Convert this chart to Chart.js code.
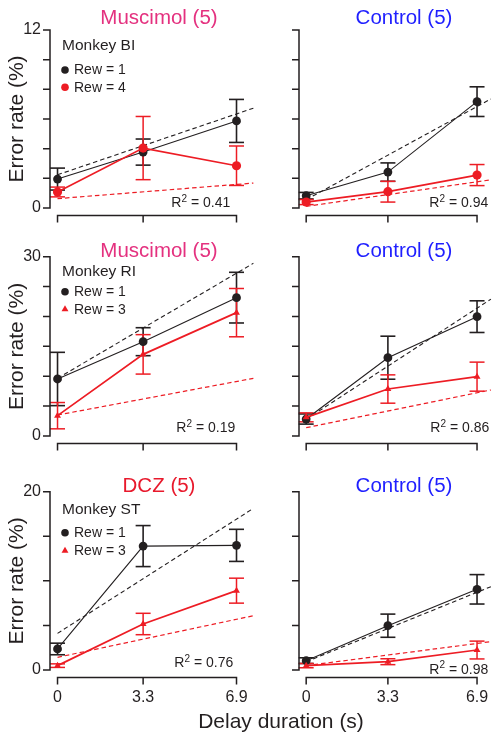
<!DOCTYPE html>
<html lang="en">
<head>
<meta charset="UTF-8" />
<title>Error rate vs delay duration</title>
<script src="https://cdn.jsdelivr.net/npm/chart.js"></script>
<style>
  html, body { margin: 0; padding: 0; background: #fff; }
  #wrap { position: relative; width: 500px; height: 734px; overflow: hidden; }
  #wrap canvas { position: absolute; left: 0; top: 0; }
</style>
</head>
<body>
<div id="wrap">
  <canvas id="c0" width="500" height="734"></canvas>
  <canvas id="c1" width="500" height="734"></canvas>
  <canvas id="c2" width="500" height="734"></canvas>
  <canvas id="c3" width="500" height="734"></canvas>
  <canvas id="c4" width="500" height="734"></canvas>
  <canvas id="c5" width="500" height="734"></canvas>
</div>
<script>
// delay durations (s) on the x axis
const delays = [0, 3.3, 6.9];
const xTickLabels = ['0', '3.3', '6.9'];

// y ticks of each row (only the ends are labelled)
const yTicksRows = [
  [0, 2, 4, 6, 8, 10, 12],
  [0, 5, 10, 15, 20, 25, 30],
  [0, 5, 10, 15, 20]
];

// Monkey BI - muscimol / control
const biMusRew1 = [1.95, 3.77, 5.87];
const biMusRew1Err = [0.74, 0.88, 1.45];
const biMusRew4 = [1.08, 4.04, 2.85];
const biMusRew4Err = [0.33, 2.13, 1.33];
const biMusFit1 = [[0, 2.24], [7.55, 6.73]];
const biMusFit4 = [[0, 0.63], [7.55, 1.68]];

const biConRew1 = [0.83, 2.42, 7.17];
const biConRew1Err = [0.22, 0.62, 1.0];
const biConRew4 = [0.40, 1.10, 2.22];
const biConRew4Err = [0.17, 0.70, 0.71];
const biConFit1 = [[0, 0.56], [7.46, 7.35]];
const biConFit4 = [[0, 0.11], [7.46, 1.9]];

// Monkey RI - muscimol / control
const riMusRew1 = [9.54, 15.78, 23.15];
const riMusRew1Err = [4.46, 2.34, 4.24];
const riMusRew3 = [3.4, 13.66, 20.64];
const riMusRew3Err = [2.2, 3.3, 4.04];
const riMusFit1 = [[0, 9.65], [7.55, 28.9]];
const riMusFit3 = [[0, 3.51], [7.55, 9.65]];

const riConRew1 = [2.84, 13.1, 19.97];
const riConRew1Err = [0.85, 3.6, 2.65];
const riConRew3 = [3.12, 7.86, 9.93];
const riConRew3Err = [0.75, 2.37, 2.43];
const riConFit1 = [[0, 2.79], [7.46, 22.9]];
const riConFit3 = [[0, 1.39], [7.46, 7.7]];

// Monkey ST - DCZ / control
const stDczRew1 = [2.36, 13.9, 13.98];
const stDczRew1Err = [0.65, 2.3, 1.8];
const stDczRew3 = [0.49, 5.16, 8.9];
const stDczRew3Err = [0.2, 1.2, 1.4];
const stDczFit1 = [[0, 4.11], [7.55, 18.13]];
const stDczFit3 = [[0, 1.42], [7.55, 6.09]];

const stConRew1 = [1.05, 4.97, 9.05];
const stConRew1Err = [0.32, 1.3, 1.65];
const stConRew3 = [0.49, 0.93, 2.24];
const stConRew3Err = [0.24, 0.33, 1.0];
const stConFit1 = [[0, 0.93], [7.46, 9.35]];
const stConFit3 = [[0, 0.49], [7.46, 3.18]];

const ink = '#231f20';
const red = '#ed1c24';
const pink = '#e4317f';
const blue = '#1f1fff';
const dczRed = '#e8192c';
const font = '"Liberation Sans", Arial, Helvetica, sans-serif';

// layout of the grid (px)
const rowTop = [30, 256.7, 491.7];
const rowBottom = [208, 436, 670];
const colLeft = [50, 299];
const xMin = -0.29;
const xMaxCol = [7.55, 7.46];
const pxPerUnit = 25.94;
const titleBase = [23.5, 257, 492];
const titleX = [159, 404];
const monkeyBase = [50, 276, 514];
const legendY = [[70, 87.3], [291.7, 309.3], [532.7, 550.7]];

const panels = [
  { id: 'c0', row: 0, col: 0, title: 'Muscimol (5)', titleColor: pink, monkey: 'Monkey BI', rewN: 'Rew = 4', shape: 'circle',
    rew1: biMusRew1, rew1Err: biMusRew1Err, rewV: biMusRew4, rewVErr: biMusRew4Err, fit1: biMusFit1, fitV: biMusFit4, r2: '0.41', r2Right: 230, r2Base: 207 },
  { id: 'c1', row: 0, col: 1, title: 'Control (5)', titleColor: blue, shape: 'circle',
    rew1: biConRew1, rew1Err: biConRew1Err, rewV: biConRew4, rewVErr: biConRew4Err, fit1: biConFit1, fitV: biConFit4, r2: '0.94', r2Right: 488, r2Base: 207 },
  { id: 'c2', row: 1, col: 0, title: 'Muscimol (5)', titleColor: pink, monkey: 'Monkey RI', rewN: 'Rew = 3', shape: 'triangle',
    rew1: riMusRew1, rew1Err: riMusRew1Err, rewV: riMusRew3, rewVErr: riMusRew3Err, fit1: riMusFit1, fitV: riMusFit3, r2: '0.19', r2Right: 235, r2Base: 432 },
  { id: 'c3', row: 1, col: 1, title: 'Control (5)', titleColor: blue, shape: 'triangle',
    rew1: riConRew1, rew1Err: riConRew1Err, rewV: riConRew3, rewVErr: riConRew3Err, fit1: riConFit1, fitV: riConFit3, r2: '0.86', r2Right: 489, r2Base: 432 },
  { id: 'c4', row: 2, col: 0, title: 'DCZ (5)', titleColor: dczRed, monkey: 'Monkey ST', rewN: 'Rew = 3', shape: 'triangle',
    rew1: stDczRew1, rew1Err: stDczRew1Err, rewV: stDczRew3, rewVErr: stDczRew3Err, fit1: stDczFit1, fitV: stDczFit3, r2: '0.76', r2Right: 233, r2Base: 667 },
  { id: 'c5', row: 2, col: 1, title: 'Control (5)', titleColor: blue, shape: 'triangle',
    rew1: stConRew1, rew1Err: stConRew1Err, rewV: stConRew3, rewVErr: stConRew3Err, fit1: stConFit1, fitV: stConFit3, r2: '0.98', r2Right: 488, r2Base: 673.5 }
];

function marker(ctx, shape, x, y, r, color) {
  ctx.fillStyle = color;
  ctx.beginPath();
  if (shape === 'triangle') {
    for (let k = 0; k < 3; k++) {
      const a = k * 2 * Math.PI / 3;
      const px = x + Math.sin(a) * r, py = y - Math.cos(a) * r;
      k === 0 ? ctx.moveTo(px, py) : ctx.lineTo(px, py);
    }
    ctx.closePath();
  } else {
    ctx.arc(x, y, r, 0, Math.PI * 2);
  }
  ctx.fill();
}

function panelPlugin(p) {
  const yTicks = yTicksRows[p.row];
  return {
    id: 'panelText',
    afterDraw(chart) {
      const ctx = chart.ctx;
      const xs = chart.scales.x;
      const ys = chart.scales.y;
      const area = chart.chartArea;
      ctx.save();
      ctx.strokeStyle = ink;
      ctx.lineWidth = 1.5;

      // y axis spine with ticks pointing left
      ctx.beginPath();
      ctx.moveTo(area.left, ys.getPixelForValue(yTicks[0]) + 0.75);
      ctx.lineTo(area.left, ys.getPixelForValue(yTicks[yTicks.length - 1]) - 0.75);
      yTicks.forEach(v => {
        const py = ys.getPixelForValue(v);
        ctx.moveTo(area.left, py);
        ctx.lineTo(area.left - 7, py);
      });
      ctx.stroke();

      // detached x axis with ticks pointing down
      const yLine = area.bottom + 7.5;
      ctx.beginPath();
      ctx.moveTo(xs.getPixelForValue(delays[0]) - 0.75, yLine);
      ctx.lineTo(xs.getPixelForValue(delays[delays.length - 1]) + 0.75, yLine);
      delays.forEach(d => {
        const px = xs.getPixelForValue(d);
        ctx.moveTo(px, yLine);
        ctx.lineTo(px, yLine + 7);
      });
      ctx.stroke();

      // panel title
      ctx.textAlign = 'center';
      ctx.textBaseline = 'alphabetic';
      ctx.font = '20.5px ' + font;
      ctx.fillStyle = p.titleColor;
      ctx.fillText(p.title, titleX[p.col], titleBase[p.row]);

      // monkey name + legend
      if (p.monkey) {
        ctx.textAlign = 'left';
        ctx.fillStyle = ink;
        ctx.font = '15.5px ' + font;
        ctx.fillText(p.monkey, 62, monkeyBase[p.row]);
        const ly = legendY[p.row];
        marker(ctx, 'circle', 65, ly[0], 3.8, ink);
        marker(ctx, p.shape, 65, ly[1], p.shape === 'triangle' ? 4 : 3.8, red);
        ctx.font = '14px ' + font;
        ctx.fillStyle = ink;
        ctx.textBaseline = 'middle';
        ctx.fillText('Rew = 1', 74, ly[0] + 0.5);
        ctx.fillText(p.rewN, 74, ly[1] + 0.5);
      }

      // R squared
      ctx.textAlign = 'left';
      ctx.textBaseline = 'alphabetic';
      ctx.fillStyle = ink;
      ctx.font = '14px ' + font;
      const rest = ' = ' + p.r2;
      const wR = ctx.measureText('R').width;
      const wRest = ctx.measureText(rest).width;
      ctx.font = '10px ' + font;
      const w2 = ctx.measureText('2').width;
      const x = p.r2Right - wRest - w2 - wR;
      ctx.font = '14px ' + font;
      ctx.fillText('R', x, p.r2Base);
      ctx.font = '10px ' + font;
      ctx.fillText('2', x + wR + 0.3, p.r2Base - 5.5);
      ctx.font = '14px ' + font;
      ctx.fillText(rest, x + wR + w2 + 0.3, p.r2Base);

      // shared x title
      if (p.row === 2 && p.col === 0) {
        ctx.textAlign = 'center';
        ctx.font = '21px ' + font;
        ctx.fillText('Delay duration (s)', 281, 728);
      }
      ctx.restore();
    }
  };
}

function errorBars(means, errs, color, width) {
  return means.map((m, i) => ({
    data: [{ x: delays[i], y: m - errs[i] }, { x: delays[i], y: m + errs[i] }],
    showLine: true,
    borderColor: color,
    borderWidth: width,
    pointStyle: 'line',
    pointRadius: 7.5,
    pointBorderColor: color,
    pointBorderWidth: width,
    clip: false
  }));
}

function fitLine(pts, color, width) {
  return {
    data: pts.map(q => ({ x: q[0], y: q[1] })),
    showLine: true,
    borderColor: color,
    borderWidth: width,
    borderDash: [4.5, 3],
    pointRadius: 0,
    clip: false
  };
}

function makeChart(p) {
  const r = p.row, c = p.col;
  const yTicks = yTicksRows[r];
  const yMax = yTicks[yTicks.length - 1];
  const yAxisW = c === 0 ? 50 : 10;
  const xAxisH = r === 2 ? 40 : 20;
  const right = colLeft[c] + (xMaxCol[c] - xMin) * pxPerUnit;
  const redR = p.shape === 'triangle' ? 4 : 4.6;

  const datasets = [
    { data: p.rewV.map((v, i) => ({ x: delays[i], y: v })), showLine: true, borderColor: red, borderWidth: 1.7,
      pointStyle: p.shape, pointRadius: redR, pointBackgroundColor: red, pointBorderWidth: 0, clip: false },
    { data: p.rew1.map((v, i) => ({ x: delays[i], y: v })), showLine: true, borderColor: ink, borderWidth: 1.1,
      pointStyle: 'circle', pointRadius: 4.4, pointBackgroundColor: ink, pointBorderWidth: 0, clip: false },
    ...errorBars(p.rewV, p.rewVErr, red, 1.5),
    ...errorBars(p.rew1, p.rew1Err, ink, 1.6),
    fitLine(p.fitV, red, 1.2),
    fitLine(p.fit1, ink, 1.1)
  ];

  new Chart(document.getElementById(p.id), {
    type: 'scatter',
    data: { datasets },
    options: {
      responsive: false,
      animation: false,
      events: [],
      devicePixelRatio: 1,
      layout: { padding: { left: colLeft[c] - yAxisW, right: 500 - right, top: rowTop[r], bottom: 734 - rowBottom[r] - xAxisH } },
      plugins: { legend: { display: false }, tooltip: { enabled: false } },
      scales: {
        x: {
          type: 'linear', min: xMin, max: xMaxCol[c],
          grid: { display: false, drawTicks: true, tickLength: 14 },
          border: { display: false },
          afterBuildTicks: s => { s.ticks = delays.map(v => ({ value: v })); },
          afterFit: s => { s.height = xAxisH; s.paddingLeft = 0; s.paddingRight = 0; },
          ticks: { display: r === 2, padding: 3.5, autoSkip: false, maxRotation: 0, color: ink,
            font: { family: font, size: 16 }, callback: (v, i) => xTickLabels[i] }
        },
        y: {
          min: 0, max: yMax,
          afterBuildTicks: s => { s.ticks = yTicks.map(v => ({ value: v })); },
          afterFit: s => { s.width = yAxisW; s.paddingTop = 0; s.paddingBottom = 0; },
          border: { display: false },
          grid: { display: false, drawTicks: true, tickLength: 7 },
          ticks: { autoSkip: false, padding: 2, color: ink, font: { family: font, size: 16 },
            callback: v => (c === 0 && (v === 0 || v === yMax)) ? String(v) : '' },
          title: { display: c === 0, text: 'Error rate (%)', color: ink, font: { family: font, size: 21 }, padding: { top: 5, bottom: 0 } }
        }
      }
    },
    plugins: [panelPlugin(p)]
  });
}

panels.forEach(makeChart);
</script>
</body>
</html>
